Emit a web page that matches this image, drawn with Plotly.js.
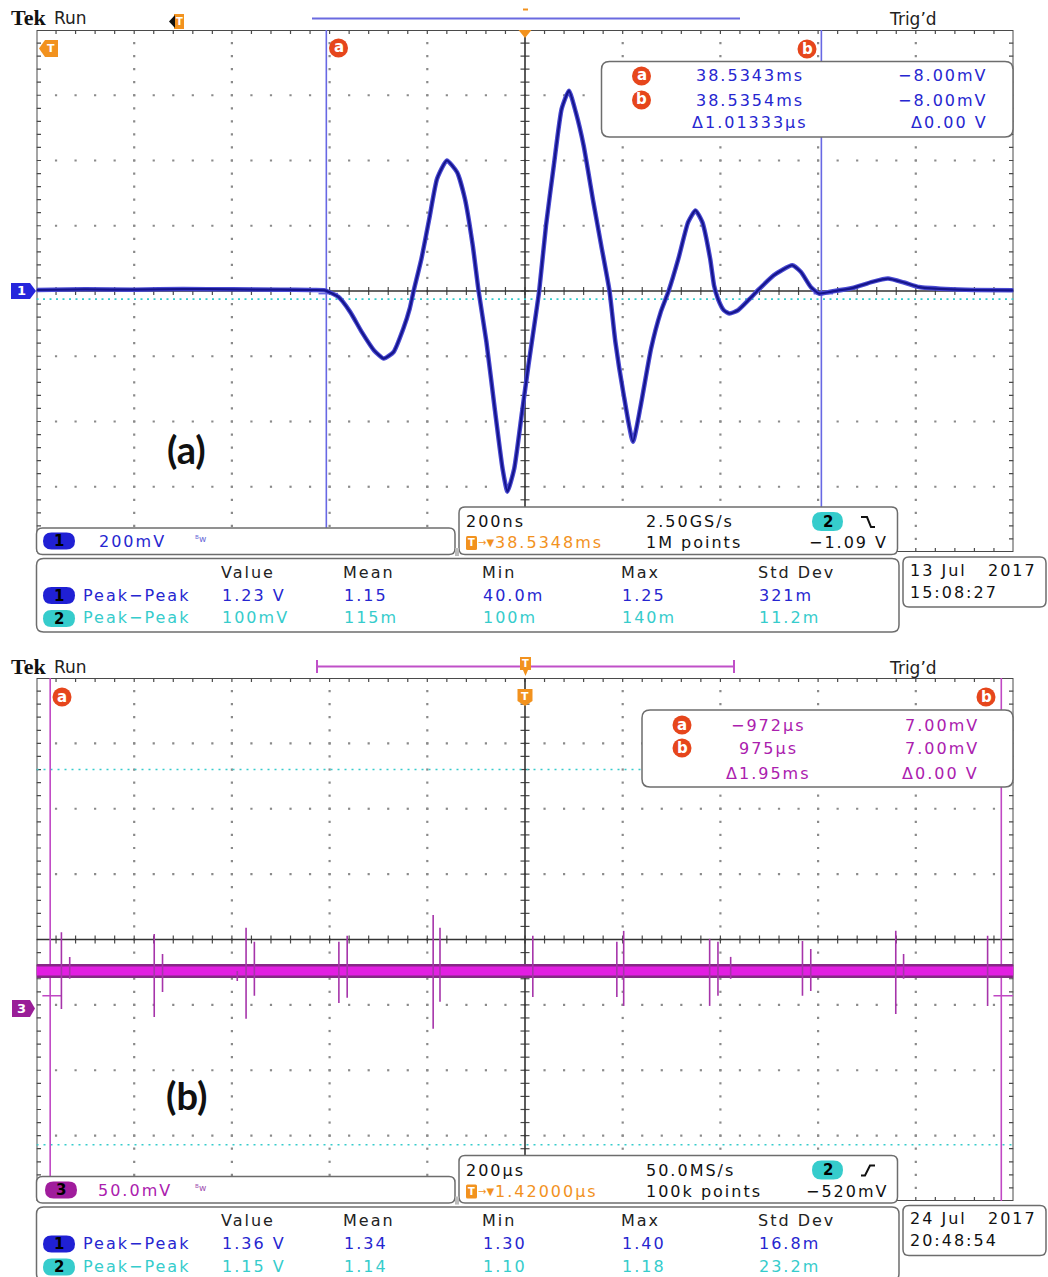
<!DOCTYPE html>
<html><head><meta charset="utf-8">
<script src="https://cdn.plot.ly/plotly-3.0.1.min.js"></script>
<style>
html,body{margin:0;padding:0;background:#fff;}
#chart{width:1048px;height:1277px;}
.annotation-text{letter-spacing:2px;}
</style>
</head><body><div id="chart"></div>
<script>
// ================= DATA =================
// Panel (a): channel 1 signal, time (ns) relative to trigger, amplitude (mV), 200 ns/div, 200 mV/div
const waveA_t = [-1000,-900,-800,-700,-600,-500,-440,-410,-382,-358,-334,-309,-289,-269,-249,-236,-228,-212,-196,-180,-160,-139,-123,-107,-95,-79,-62,-46,-36,-22,-6,7,23,29,43,59,75,90,104,120,140,156,173,185,201,221,237,258,278,294,314,334,349,363,379,387,395,407,419,436,460,480,509,547,565,585,602,622,670,711,743,776,807,860,920,1000];
const waveA_mV = [3,5,4,6,5,4,3,2,-18,-64,-126,-182,-207,-187,-115,-54,0,99,221,344,400,364,283,140,0,-156,-360,-544,-615,-544,-370,-228,-64,0,201,385,558,614,548,446,272,140,0,-156,-309,-462,-350,-177,-64,0,99,211,247,211,99,17,-24,-59,-69,-59,-24,7,48,79,58,12,-8,-3,9,28,38,26,12,6,3,2];
const cursorsA_t = [-406.7, 606.7];      // ns
const cursorA_level = -8;                 // mV
const refA_mV = [-25];                    // cyan reference level (mV)

// Panel (b): channel 3 signal, time (us), amplitude (mV), 200 us/div, 50 mV/div
const bandB_t = [-1000, 1000];
const bandB_mV = [26, 26];
const spikeB_t  = [-949,-932,-759,-742,-589,-571,-554,-381,-364,-188,-174,16,188,202,378,395,421,568,585,759,775,947];
const spikeB_hi = [55.6,36.7,54.3,39.0,26.0,58.9,48.2,48.2,52.8,68.8,58.9,52.8,48.2,56.6,50.5,48.2,36.7,48.9,42.8,56.6,39.0,52.8];
const spikeB_lo = [-3.1,20.0,-9.2,9.9,18.3,-10.7,6.9,1.5,5.4,-18.3,2.3,6.1,6.1,-0.8,-0.8,6.9,19.9,6.9,10.7,-6.9,19.9,-0.8];
const cursorsB_t = [-972, 975];           // us
const cursorB_level = 7;                  // mV
const refB_mV = [180, -107];

// Text tables
const measHeaders = ["Value","Mean","Min","Max","Std Dev"];
const measA_ch1 = ["1.23 V","1.15","40.0m","1.25","321m"];
const measA_ch2 = ["100mV","115m","100m","140m","11.2m"];
const measB_ch1 = ["1.36 V","1.34","1.30","1.40","16.8m"];
const measB_ch2 = ["1.15 V","1.14","1.10","1.18","23.2m"];
const readoutA_time = ["38.5343ms","38.5354ms","\u03941.01333\u00b5s"];
const readoutA_volt = ["\u22128.00mV","\u22128.00mV","\u03940.00 V"];
const readoutB_time = ["\u2212972\u00b5s","975\u00b5s","\u03941.95ms"];
const readoutB_volt = ["7.00mV","7.00mV","\u03940.00 V"];
const horizA = ["200ns","2.50GS/s","38.5348ms","1M points","\u22121.09 V"];
const horizB = ["200\u00b5s","50.0MS/s","1.42000\u00b5s","100k points","\u2212520mV"];
const dateA = ["13 Jul\u00a0\u00a0 2017","15:08:27"];
const dateB = ["24 Jul\u00a0\u00a0 2017","20:48:54"];
const chScaleA = "200mV", chScaleB = "50.0mV";

// ================= LAYOUT HELPERS =================
const W=1048, H=1277;
const fx=p=>p/W, fy=p=>1-p/H;
const GX0=36.5, GX1=1013.5;
const PA={top:30,bot:552}, PB={top:678,bot:1201};
const FONT='DejaVu Sans';
const BLUE='#2626d0', NAVY='#15158c', CYAN='#36cccc', MAG='#ab20ae', ORANGE='#f2921e', RED='#e6461c';

const traces=[], shapes=[], annotations=[];
const ns=s=>'<span style="letter-spacing:0px">'+s+'</span>';

function txt(s,x,y,color,o={}){
  annotations.push({text:s,x:fx(x),y:fy(y),xref:'paper',yref:'paper',
    xanchor:o.xa||'left',yanchor:'middle',showarrow:false,borderpad:0,borderwidth:0,
    font:{family:o.family||FONT,size:o.size||16,color:color,weight:o.weight||'normal'}});
}
function rrPath(x0,y0,x1,y1,r){
  const X=v=>fx(v).toFixed(5), Y=v=>fy(v).toFixed(5);
  return `M${X(x0+r)},${Y(y0)} L${X(x1-r)},${Y(y0)} Q${X(x1)},${Y(y0)} ${X(x1)},${Y(y0+r)} L${X(x1)},${Y(y1-r)} Q${X(x1)},${Y(y1)} ${X(x1-r)},${Y(y1)} L${X(x0+r)},${Y(y1)} Q${X(x0)},${Y(y1)} ${X(x0)},${Y(y1-r)} L${X(x0)},${Y(y0+r)} Q${X(x0)},${Y(y0)} ${X(x0+r)},${Y(y0)} Z`;
}
function box(x0,y0,x1,y1,r,fill,lc,lw){
  shapes.push({type:'path',xref:'paper',yref:'paper',path:rrPath(x0,y0,x1,y1,r),fillcolor:fill,line:{color:lc||fill,width:lw===undefined?0:lw},layer:'above'});
}
function poly(pts,fill,closed=true,lc,lw){
  const d='M'+pts.map(p=>fx(p[0]).toFixed(5)+','+fy(p[1]).toFixed(5)).join(' L')+(closed?' Z':'');
  shapes.push({type:'path',xref:'paper',yref:'paper',path:d,fillcolor:closed?fill:'rgba(0,0,0,0)',line:{color:lc||fill,width:lw||0},layer:'above'});
}
function circ(cx,cy,r,fill,letter,lc){
  shapes.push({type:'circle',xref:'paper',yref:'paper',x0:fx(cx-r),x1:fx(cx+r),y0:fy(cy+r),y1:fy(cy-r),fillcolor:fill,line:{width:0},layer:'above'});
  txt(ns(letter),cx,cy-0.5,lc,{xa:'center',size:15,weight:'bold'});
}
function pill(x0,y0,x1,y1,fill,label){
  box(x0,y0,x1,y1,(y1-y0)/2,fill);
  txt(ns(label),(x0+x1)/2,(y0+y1)/2,'#000',{xa:'center',size:15,weight:'bold'});
}

// ================= GRATICULE =================
function graticule(xa,ya,xr,yr,pxDivY){
  const nx=10, ny=8;
  const dx=(xr[1]-xr[0])/nx, dy=(yr[1]-yr[0])/ny;
  const xc=(xr[0]+xr[1])/2, yc=(yr[0]+yr[1])/2;
  const dX=[],dY=[];
  for(let i=1;i<nx;i++){ if(i===nx/2) continue; const x=xr[0]+i*dx;
    for(let k=1;k<ny*5;k++){dX.push(x);dY.push(yr[0]+k*dy/5);} }
  for(let j=1;j<ny;j++){ if(j===ny/2) continue; const y=yr[0]+j*dy;
    for(let k=1;k<nx*5;k++){dX.push(xr[0]+k*dx/5);dY.push(y);} }
  traces.push({type:'scatter',mode:'markers',x:dX,y:dY,xaxis:xa,yaxis:ya,
    marker:{symbol:'square',size:2.2,color:'#8a8a8a',line:{width:0}},hoverinfo:'skip'});
  const tlx=dx*4.5/97.7, tly=dy*4/pxDivY;
  const tX=[],tY=[];
  for(let k=1;k<nx*5;k++){const x=xr[0]+k*dx/5;
    tX.push(x,x,null,x,x,null,x,x,null); tY.push(yr[1],yr[1]-tly,null,yr[0],yr[0]+tly,null,yc-tly,yc+tly,null);}
  for(let k=1;k<ny*5;k++){const y=yr[0]+k*dy/5;
    tX.push(xr[0],xr[0]+tlx,null,xr[1],xr[1]-tlx,null,xc-tlx,xc+tlx,null); tY.push(y,y,null,y,y,null,y,y,null);}
  traces.push({type:'scatter',mode:'lines',x:tX,y:tY,xaxis:xa,yaxis:ya,line:{color:'#4a4a4a',width:1.2},hoverinfo:'skip'});
  traces.push({type:'scatter',mode:'lines',x:[xr[0],xr[1],null,xc,xc],y:[yc,yc,null,yr[0],yr[1]],xaxis:xa,yaxis:ya,
    line:{color:'#333',width:1.6},hoverinfo:'skip'});
  shapes.push({type:'rect',xref:xa,yref:ya,x0:xr[0],x1:xr[1],y0:yr[0],y1:yr[1],line:{color:'#4a4a4a',width:2},layer:'below'});
}
const xrA=[-1000,1000], yrA=[-800,800], xrB=[-1000,1000], yrB=[-150,250];
graticule('x','y',xrA,yrA,65.25);
graticule('x2','y2',xrB,yrB,65.4);

// reference (cyan dotted) levels
refA_mV.forEach(v=>traces.push({type:'scatter',mode:'lines',x:xrA,y:[v,v],xaxis:'x',yaxis:'y',line:{color:CYAN,width:1.6,dash:'2px,4.5px'},hoverinfo:'skip'}));
refB_mV.forEach(v=>traces.push({type:'scatter',mode:'lines',x:xrB,y:[v,v],xaxis:'x2',yaxis:'y2',line:{color:CYAN,width:1.6,dash:'2px,5px'},hoverinfo:'skip'}));

// cursors
function cursors(xa,ya,ts,yr,level,color){
  const X=[],Y=[],hX=[],hY=[];
  ts.forEach(t=>{X.push(t,t,null);Y.push(yr[0],yr[1],null);hX.push(t-16,t+24,null);hY.push(level,level,null);});
  traces.push({type:'scatter',mode:'lines',x:X,y:Y,xaxis:xa,yaxis:ya,line:{color:color,width:1.6},hoverinfo:'skip'});
  traces.push({type:'scatter',mode:'lines',x:hX,y:hY,xaxis:xa,yaxis:ya,line:{color:color,width:1.6},hoverinfo:'skip'});
}
cursors('x','y',cursorsA_t,yrA,cursorA_level,'#6868e4');
cursors('x2','y2',cursorsB_t,yrB,cursorB_level,'#c048c4');

// waveform (a)
traces.push({type:'scatter',mode:'lines',x:waveA_t,y:waveA_mV,xaxis:'x',yaxis:'y',line:{color:'#4a4ad2',width:4.5,shape:'spline',smoothing:0.5},hoverinfo:'skip'});
traces.push({type:'scatter',mode:'lines',x:waveA_t,y:waveA_mV,xaxis:'x',yaxis:'y',line:{color:NAVY,width:2.2,shape:'spline',smoothing:0.5},hoverinfo:'skip'});

// waveform (b): noise band + spikes
traces.push({type:'scatter',mode:'lines',x:bandB_t,y:bandB_mV,xaxis:'x2',yaxis:'y2',line:{color:'#862886',width:14},hoverinfo:'skip'});
traces.push({type:'scatter',mode:'lines',x:bandB_t,y:bandB_mV,xaxis:'x2',yaxis:'y2',line:{color:'#e21ee2',width:9},hoverinfo:'skip'});
(function(){
  const X=[],Y=[];
  spikeB_t.forEach((t,i)=>{X.push(t,t,null);Y.push(spikeB_lo[i],spikeB_hi[i],null);});
  traces.push({type:'scatter',mode:'lines',x:X,y:Y,xaxis:'x2',yaxis:'y2',line:{color:'#a634aa',width:1.6},hoverinfo:'skip'});
})();

// ================= SCREEN CHROME =================
function chrome(o){
  txt(ns('Tek'),11,18+o,'#111',{family:'Liberation Serif',size:22,weight:'bold'});
  txt(ns('Run'),54,18+o,'#222',{size:17});
  txt(ns("Trig\u2019d"),889,19+o,'#222',{size:17});
  box(36.5,528+o,455,554.5+o,6,'#fff','#6d6d6d',1.5);
  box(459,507+o,897.5,554.5+o,6,'#fff','#6d6d6d',1.5);
  poly([[455,548+o],[459,548+o],[459,556+o],[455,556+o]],'#bbb');
  box(36.5,558.5+o,899,632+o,7,'#fff','#6d6d6d',1.5);
  box(903,557+o,1046,607+o,6,'#fff','#6d6d6d',1.5);
}
chrome(0); chrome(648.5);

// ----- panel (a) specific -----
poly([[312,18.5],[740,18.5]],null,false,'#6a6ae0',2);
poly([[523,9.5],[528,9.5]],null,false,ORANGE,2);
poly([[174,14],[184,14],[184,29],[174,29]],ORANGE);
poly([[169,21.5],[175,15],[175,28]],'#111');
txt(ns('T'),179,21.5,'#fff',{xa:'center',size:10,weight:'bold'});
poly([[518.5,30],[531.5,30],[525,38]],ORANGE);
poly([[58,40],[58,57],[45,57],[39,48.5],[45,40]],ORANGE);
txt(ns('T'),51,48.5,'#fff',{xa:'center',size:11,weight:'bold'});
poly([[11,283],[30,283],[36,291],[30,299],[11,299]],'#2626dc');
txt(ns('1'),21,291,'#fff',{xa:'center',size:13,weight:'bold'});
circ(338.5,48,9.5,RED,'a','#fff');
circ(807,49,9.5,RED,'b','#fff');
box(601.5,61.5,1013,137,8,'#fff','#6d6d6d',1.5);
[76,100,123].forEach((y,i)=>{
  if(i<2) circ(641.5,y,9.5,RED,i?'b':'a','#fff');
  txt(readoutA_time[i],750,y,BLUE,{xa:'center'});
  txt(readoutA_volt[i],988,y,BLUE,{xa:'right'});
});
pill(43,532.5,75,549.5,'#2020d4','1');
txt(chScaleA,99,541,BLUE);
txt(ns('\u1d2ew'),195,539,'#6a6ad8',{size:9});
txt(horizA[0],466,521.5,'#111');
txt(horizA[1],645.5,521.5,'#111');
pill(812,512,843,531,CYAN,'2');
poly([[861,517],[867,517],[871,527],[875,527]],null,false,'#111',2);
box(466,536,477,550,1.5,ORANGE);
txt(ns('T'),471.5,543,'#fff',{xa:'center',size:10,weight:'bold'});
txt(ns('\u2192\u25bc'),478,543,ORANGE,{size:10});
txt(horizA[2],495,543,ORANGE);
txt(horizA[3],645.5,543,'#111');
txt(horizA[4],888,543,'#111',{xa:'right'});
const colX=[221,343,482,621,758];
function measTable(o,r1,r2){
  measHeaders.forEach((h,i)=>txt(h,colX[i],572+o,'#222'));
  pill(43,587+o,75,604+o,'#2020d4','1');
  pill(43,610+o,75,627+o,CYAN,'2');
  txt('Peak\u2212Peak',83,595+o,BLUE);
  txt('Peak\u2212Peak',83,618+o,CYAN);
  r1.forEach((v,i)=>txt(v,colX[i]+1,595+o,BLUE));
  r2.forEach((v,i)=>txt(v,colX[i]+1,618+o,CYAN));
}
measTable(0,measA_ch1,measA_ch2);
txt(dateA[0],910,570,'#111'); txt(dateA[1],910,592,'#111');
txt(ns('(a)'),186,449,'#111',{xa:'center',family:'Lato',size:38,weight:'bold'});

// ----- panel (b) specific -----
const o=648.5;
poly([[317,666.5],[734,666.5]],null,false,'#c050c8',2);
poly([[317,660],[317,673]],null,false,'#c050c8',2);
poly([[734,660],[734,673]],null,false,'#c050c8',2);
poly([[520,657],[531,657],[531,670],[528,670],[525.5,676],[523,670],[520,670]],ORANGE);
txt(ns('T'),525.5,663,'#fff',{xa:'center',size:10,weight:'bold'});
poly([[517.5,689],[532.5,689],[532.5,701],[525,706],[517.5,701]],ORANGE);
txt(ns('T'),525,696.5,'#fff',{xa:'center',size:11,weight:'bold'});
poly([[12,1000],[30,1000],[35,1008.5],[30,1017],[12,1017]],'#9a1e98');
txt(ns('3'),21,1008.5,'#fff',{xa:'center',size:13,weight:'bold'});
circ(62,697,9.5,RED,'a','#fff');
circ(986,697,9.5,RED,'b','#fff');
box(642,710,1013,787,8,'#fff','#6d6d6d',1.5);
[725,748,773].forEach((y,i)=>{
  if(i<2) circ(682,y,9.5,RED,i?'b':'a','#fff');
  txt(readoutB_time[i],768,y,MAG,{xa:'center'});
  txt(readoutB_volt[i],979,y,MAG,{xa:'right'});
});
pill(45,1181.5,77,1198.5,'#a01c9c','3');
txt(chScaleB,98,1190,MAG);
txt(ns('\u1d2ew'),195,1188,'#a050b0',{size:9});
txt(horizB[0],466,521.5+o,'#111');
txt(horizB[1],645.5,521.5+o,'#111');
pill(812,512+o,843,531+o,CYAN,'2');
poly([[861,527+o],[865,527+o],[870,517+o],[875,517+o]],null,false,'#111',2);
box(466,536+o,477,550+o,1.5,ORANGE);
txt(ns('T'),471.5,543+o,'#fff',{xa:'center',size:10,weight:'bold'});
txt(ns('\u2192\u25bc'),478,543+o,ORANGE,{size:10});
txt(horizB[2],495,543+o,ORANGE);
txt(horizB[3],645.5,543+o,'#111');
txt(horizB[4],888,543+o,'#111',{xa:'right'});
measTable(o,measB_ch1,measB_ch2);
txt(dateB[0],910,570+o,'#111'); txt(dateB[1],910,592+o,'#111');
txt(ns('(b)'),186,1095,'#111',{xa:'center',family:'Lato',size:38,weight:'bold'});

// ================= PLOT =================
const ax={visible:false,fixedrange:true,showgrid:false,zeroline:false};
const layout={
  width:W,height:H,margin:{l:0,r:0,t:0,b:0,pad:0},
  paper_bgcolor:'#fff',plot_bgcolor:'#fff',showlegend:false,hovermode:false,
  xaxis:Object.assign({},ax,{domain:[fx(GX0),fx(GX1)],range:xrA,anchor:'y'}),
  yaxis:Object.assign({},ax,{domain:[fy(PA.bot),fy(PA.top)],range:yrA,anchor:'x'}),
  xaxis2:Object.assign({},ax,{domain:[fx(GX0),fx(GX1)],range:xrB,anchor:'y2'}),
  yaxis2:Object.assign({},ax,{domain:[fy(PB.bot),fy(PB.top)],range:yrB,anchor:'x2'}),
  shapes:shapes,annotations:annotations
};
Plotly.newPlot('chart',traces,layout,{staticPlot:true,displayModeBar:false});
</script></body></html>
